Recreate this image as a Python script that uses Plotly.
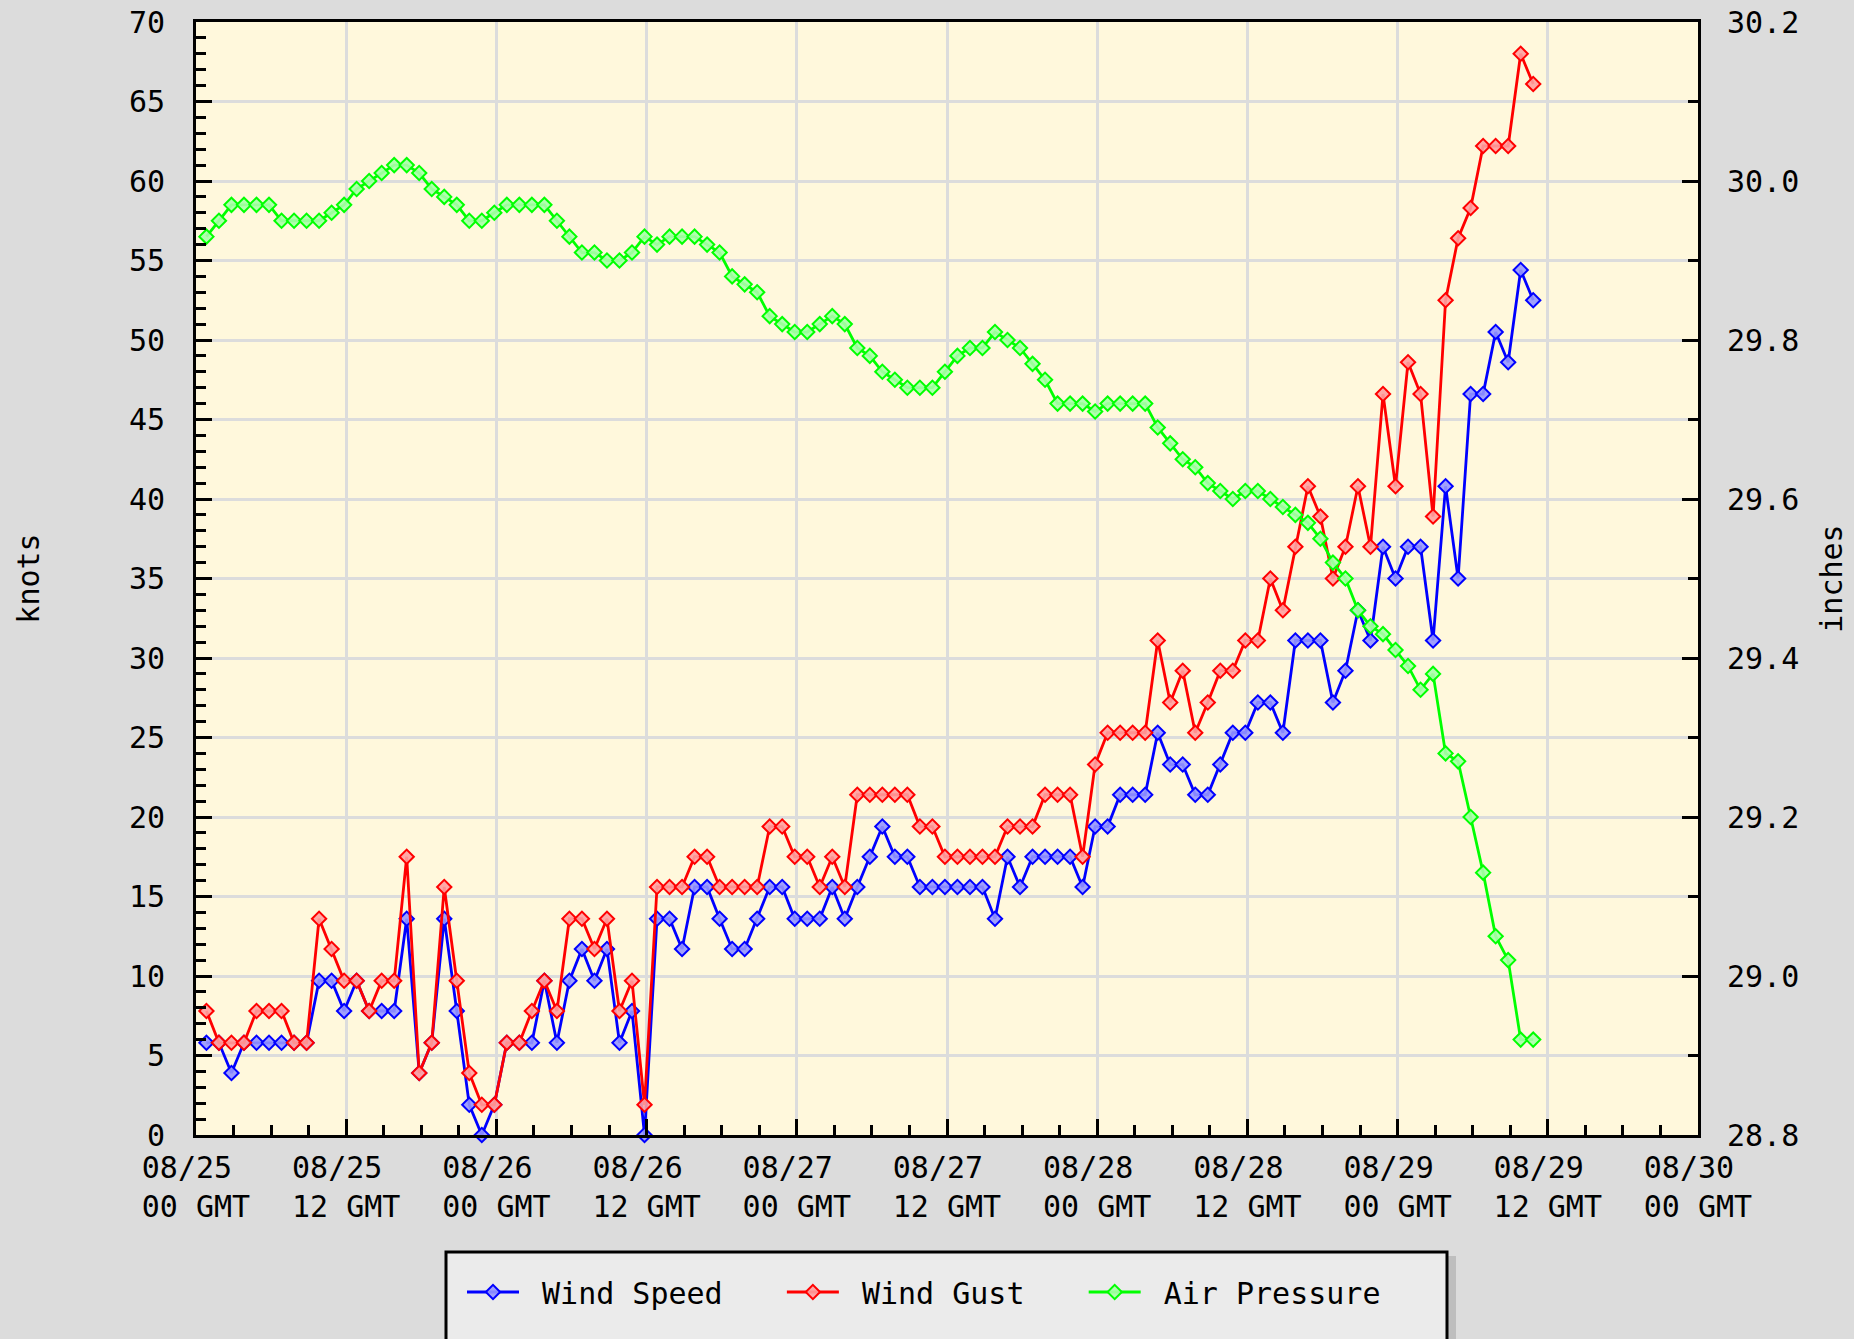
import pandas as pd
import plotly.graph_objects as go

# ---- data ----
start_time = "2005-08-25 00:50"   # first hourly observation (GMT)

wind_speed = [5.8, 5.8, 3.9, 5.8, 5.8, 5.8, 5.8, 5.8, 5.8, 9.7,
              9.7, 7.8, 9.7, 7.8, 7.8, 7.8, 13.6, 3.9, 5.8, 13.6,
              7.8, 1.9, 0.0, 1.9, 5.8, 5.8, 5.8, 9.7, 5.8, 9.7,
              11.7, 9.7, 11.7, 5.8, 7.8, 0.0, 13.6, 13.6, 11.7, 15.6,
              15.6, 13.6, 11.7, 11.7, 13.6, 15.6, 15.6, 13.6, 13.6, 13.6,
              15.6, 13.6, 15.6, 17.5, 19.4, 17.5, 17.5, 15.6, 15.6, 15.6,
              15.6, 15.6, 15.6, 13.6, 17.5, 15.6, 17.5, 17.5, 17.5, 17.5,
              15.6, 19.4, 19.4, 21.4, 21.4, 21.4, 25.3, 23.3, 23.3, 21.4,
              21.4, 23.3, 25.3, 25.3, 27.2, 27.2, 25.3, 31.1, 31.1, 31.1,
              27.2, 29.2, 33.0, 31.1, 37.0, 35.0, 37.0, 37.0, 31.1, 40.8,
              35.0, 46.6, 46.6, 50.5, 48.6, 54.4, 52.5]

wind_gust = [7.8, 5.8, 5.8, 5.8, 7.8, 7.8, 7.8, 5.8, 5.8, 13.6,
             11.7, 9.7, 9.7, 7.8, 9.7, 9.7, 17.5, 3.9, 5.8, 15.6,
             9.7, 3.9, 1.9, 1.9, 5.8, 5.8, 7.8, 9.7, 7.8, 13.6,
             13.6, 11.7, 13.6, 7.8, 9.7, 1.9, 15.6, 15.6, 15.6, 17.5,
             17.5, 15.6, 15.6, 15.6, 15.6, 19.4, 19.4, 17.5, 17.5, 15.6,
             17.5, 15.6, 21.4, 21.4, 21.4, 21.4, 21.4, 19.4, 19.4, 17.5,
             17.5, 17.5, 17.5, 17.5, 19.4, 19.4, 19.4, 21.4, 21.4, 21.4,
             17.5, 23.3, 25.3, 25.3, 25.3, 25.3, 31.1, 27.2, 29.2, 25.3,
             27.2, 29.2, 29.2, 31.1, 31.1, 35.0, 33.0, 37.0, 40.8, 38.9,
             35.0, 37.0, 40.8, 37.0, 46.6, 40.8, 48.6, 46.6, 38.9, 52.5,
             56.4, 58.3, 62.2, 62.2, 62.2, 68.0, 66.1]

air_pressure = [29.93, 29.95, 29.97, 29.97, 29.97, 29.97, 29.95, 29.95, 29.95, 29.95,
                29.96, 29.97, 29.99, 30.00, 30.01, 30.02, 30.02, 30.01, 29.99, 29.98,
                29.97, 29.95, 29.95, 29.96, 29.97, 29.97, 29.97, 29.97, 29.95, 29.93,
                29.91, 29.91, 29.90, 29.90, 29.91, 29.93, 29.92, 29.93, 29.93, 29.93,
                29.92, 29.91, 29.88, 29.87, 29.86, 29.83, 29.82, 29.81, 29.81, 29.82,
                29.83, 29.82, 29.79, 29.78, 29.76, 29.75, 29.74, 29.74, 29.74, 29.76,
                29.78, 29.79, 29.79, 29.81, 29.80, 29.79, 29.77, 29.75, 29.72, 29.72,
                29.72, 29.71, 29.72, 29.72, 29.72, 29.72, 29.69, 29.67, 29.65, 29.64,
                29.62, 29.61, 29.60, 29.61, 29.61, 29.60, 29.59, 29.58, 29.57, 29.55,
                29.52, 29.50, 29.46, 29.44, 29.43, 29.41, 29.39, 29.36, 29.38, 29.28,
                29.27, 29.20, 29.13, 29.05, 29.02, 28.92, 28.92]

series_names = ["Wind Speed", "Wind Gust", "Air Pressure"]

x_tick_values = ["2005-08-25 00:00", "2005-08-25 12:00", "2005-08-26 00:00",
                 "2005-08-26 12:00", "2005-08-27 00:00", "2005-08-27 12:00",
                 "2005-08-28 00:00", "2005-08-28 12:00", "2005-08-29 00:00",
                 "2005-08-29 12:00", "2005-08-30 00:00"]
x_tick_labels = ["08/25\u00a0<br>00 GMT", "08/25\u00a0<br>12 GMT", "08/26\u00a0<br>00 GMT",
                 "08/26\u00a0<br>12 GMT", "08/27\u00a0<br>00 GMT", "08/27\u00a0<br>12 GMT",
                 "08/28\u00a0<br>00 GMT", "08/28\u00a0<br>12 GMT", "08/29\u00a0<br>00 GMT",
                 "08/29\u00a0<br>12 GMT", "08/30\u00a0<br>00 GMT"]

times = pd.date_range(start_time, periods=len(wind_speed), freq="h")

# ---- styling ----
FONT = "DejaVu Sans Mono"
FS = 30
W, H = 1854, 1339
L, R, T, B = 196, 156, 22, 204
pw, ph = W - L - R, H - T - B
LEAD = "\u00a0"                 # gap between legend symbol and text
PAD = "\u00a0\u00a0\u00a0"      # extra spacing after each legend entry


def px_x(px):
    return (px - L) / pw


def px_y(py):
    return (H - B - py) / ph


def series(name, x, y, color, fill, yaxis="y"):
    return go.Scatter(
        x=x, y=y, name=LEAD + name + PAD, mode="lines+markers", yaxis=yaxis,
        line=dict(color=color, width=2.8),
        marker=dict(symbol="diamond", size=11, color=fill,
                    line=dict(color=color, width=2)),
        cliponaxis=False,
    )


fig = go.Figure()
fig.add_trace(series(series_names[0], times, wind_speed, "#0000FF", "rgba(150,150,255,0.9)"))
fig.add_trace(series(series_names[1], times, wind_gust, "#FF0000", "rgba(255,160,160,0.9)"))
fig.add_trace(series(series_names[2], times, air_pressure, "#00FF00", "rgba(170,255,170,0.9)", "y2"))

# legend box (with drop shadow) drawn beneath the legend
fig.add_shape(type="rect", xref="paper", yref="paper",
              x0=px_x(1447), x1=px_x(1456), y0=px_y(1256), y1=px_y(1345),
              fillcolor="#BEBEBE", line=dict(width=0), layer="above")
fig.add_shape(type="rect", xref="paper", yref="paper",
              x0=px_x(446), x1=px_x(1447), y0=px_y(1252), y1=px_y(1345),
              fillcolor="#EBEBEB", line=dict(color="black", width=3), layer="above")

fig.update_layout(
    width=W, height=H,
    margin=dict(l=L, r=R, t=T, b=B, pad=0, autoexpand=False),
    paper_bgcolor="#DCDCDC",
    plot_bgcolor="#FFF8DC",
    font=dict(family=FONT, size=FS, color="black"),
    showlegend=True,
    legend=dict(orientation="h",
                xref="container", x=462 / W, xanchor="left",
                yref="container", y=(H - 1266) / H, yanchor="top",
                bgcolor="rgba(0,0,0,0)", borderwidth=0,
                font=dict(family=FONT, size=FS),
                itemwidth=52, traceorder="normal"),
    xaxis=dict(
        type="date", automargin=False,
        range=["2005-08-25 00:00", "2005-08-30 00:00"],
        tickmode="array", tickvals=x_tick_values, ticktext=x_tick_labels,
        ticks="inside", ticklen=16, tickwidth=3, tickcolor="black",
        minor=dict(dtick=3 * 3600 * 1000, tick0="2005-08-25 00:00",
                   ticks="inside", ticklen=10, tickwidth=3, tickcolor="black",
                   showgrid=False),
        showgrid=True, gridcolor="#DCDCDC", gridwidth=2.5,
        showline=True, linecolor="black", linewidth=3, mirror=True,
        zeroline=False, ticklabelstandoff=4,
        tickfont=dict(family=FONT, size=FS),
    ),
    yaxis=dict(
        range=[0, 70], dtick=5, tick0=0, automargin=False,
        ticks="inside", ticklen=16, tickwidth=3, tickcolor="black",
        minor=dict(dtick=1, ticks="inside", ticklen=10, tickwidth=3,
                   tickcolor="black", showgrid=False),
        showgrid=True, gridcolor="#DCDCDC", gridwidth=2.5,
        showline=True, linecolor="black", linewidth=3,
        zeroline=False, ticklabelstandoff=22,
        title=dict(text="knots", standoff=81, font=dict(family=FONT, size=FS)),
        tickfont=dict(family=FONT, size=FS),
    ),
    yaxis2=dict(
        range=[28.8, 30.2], dtick=0.2, tick0=28.8, tickformat=".1f",
        overlaying="y", side="right", automargin=False,
        ticks="inside", ticklen=16, tickwidth=3, tickcolor="black",
        minor=dict(dtick=0.1, ticks="inside", ticklen=10, tickwidth=3,
                   tickcolor="black", showgrid=False),
        showgrid=False, showline=True, linecolor="black", linewidth=3,
        zeroline=False, ticklabelstandoff=20,
        title=dict(text="inches", standoff=23, font=dict(family=FONT, size=FS)),
        tickfont=dict(family=FONT, size=FS),
    ),
)

fig.write_html(
    "out.html",
    config={"displayModeBar": False},
    post_script=("document.body.style.margin='0';"
                 "document.body.style.overflow='hidden';"
                 "document.body.style.background='#DCDCDC';"),
)
